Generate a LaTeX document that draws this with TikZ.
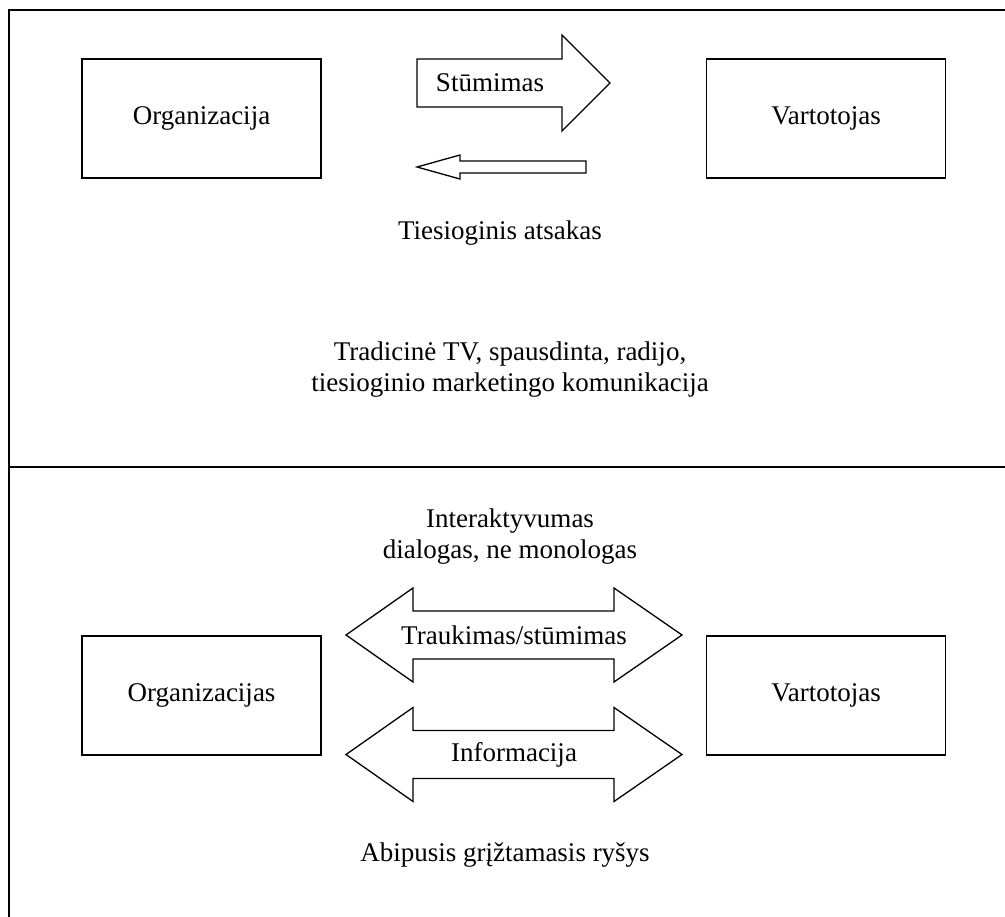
\documentclass[tikz,border=0pt]{standalone}
\usepackage{fontspec}
\setmainfont{Liberation Serif}
\begin{document}
\begin{tikzpicture}[
		x=1pt, y=-1pt,
		frm/.style = {line width=2pt},
		box/.style = {rectangle, draw, line width=1.6pt, minimum width=239pt, minimum height=119pt, font=\fontsize{27}{30}\selectfont},
		lbl/.style = {align=center, font=\fontsize{27}{31}\selectfont, inner sep=0pt},
		blk/.style = {draw, line width=1.3pt, line join=miter},
		]
		\useasboundingbox (0,0) rectangle (1005,917);
		
		% === === Frame === ===
		\draw[frm]	(1005,10)	-|	(9,917);
		\draw[frm]	(9,467)		--	(1005,467);
		
		% === === Top: traditional === ===
		\node[box]	(org)	at	(201.5,118.5)	{Organizacija};
		\node[box]	(var)	at	(826,118.5)		{Vartotojas};
		
		\coordinate	(push)	at	(417,83);
		\coordinate	(back)	at	(586,167);
		\draw[blk]	(push) ++(0,-24) -- ++(145,0) -- ++(0,-24) -- ++(48,48) -- ++(-48,48) -- ++(0,-24) -- ++(-145,0) -- cycle;
		\draw[blk]	(back) ++(0,-6) -- ++(-126,0) -- ++(0,-6) -- ++(-43,12) -- ++(43,12) -- ++(0,-6) -- ++(126,0) -- cycle;
		
		\node[lbl]	(pushl)	at	(490,83)		{Stūmimas};
		\node[lbl]	(backl)	at	(500,233)		{Tiesioginis atsakas};
		\node[lbl]	(trad)	at	(510,370)		{Tradicinė TV, spausdinta, radijo,\\tiesioginio marketingo komunikacija};
		
		% === === Bottom: interactive === ===
		\node[box]	(orgs)	at	(201.5,695.5)	{Organizacijas};
		\node[box]	(vars)	at	(826,695.5)		{Vartotojas};
		
		\node[lbl]	(inter)	at	(510,537)		{Interaktyvumas\\dialogas, ne monologas};
		
		\coordinate	(pull)	at	(346,635);
		\coordinate	(info)	at	(346,754.5);
		\draw[blk]	(pull) -- ++(67,-47) -- ++(0,23) -- ++(201,0) -- ++(0,-23) -- ++(68,47) -- ++(-68,47) -- ++(0,-23) -- ++(-201,0) -- ++(0,23) -- cycle;
		\draw[blk]	(info) -- ++(67,-47) -- ++(0,23) -- ++(201,0) -- ++(0,-23) -- ++(68,47) -- ++(-68,47) -- ++(0,-23) -- ++(-201,0) -- ++(0,23) -- cycle;
		
		\node[lbl]	(pulll)	at	(514,635)		{Traukimas/stūmimas};
		\node[lbl]	(infol)	at	(514,755)		{Informacija};
		\node[lbl]	(feed)	at	(505,855)		{Abipusis grįžtamasis ryšys};
		
	\end{tikzpicture}
\end{document}
